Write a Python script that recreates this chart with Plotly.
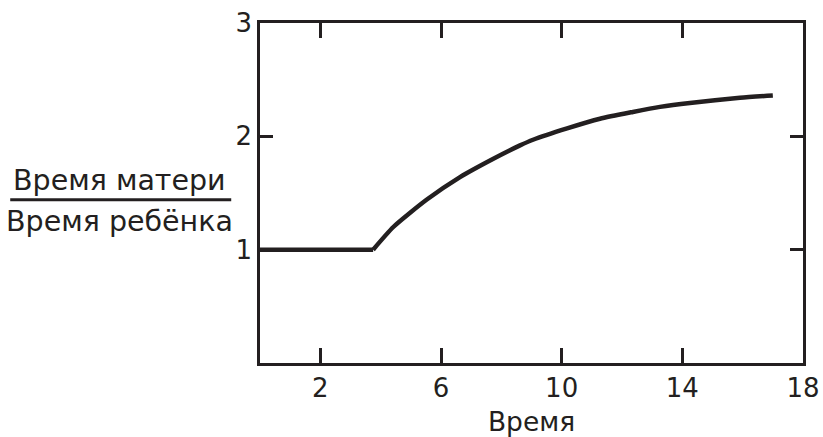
import plotly.graph_objects as go

# Data
flat_x = [0.0, 3.75]
flat_y = [1.0, 1.0]
curve_x = [3.75, 4.42, 5.52, 6.63, 7.72, 8.62, 9.05, 10.18, 11.27, 12.36, 13.26, 14.25, 15.91, 17.0]
curve_y = [1.0, 1.20, 1.44, 1.64, 1.80, 1.92, 1.97, 2.07, 2.155, 2.215, 2.26, 2.295, 2.34, 2.36]
x_ticks = [2, 6, 10, 14, 18]
y_ticks = [1, 2, 3]
x_title = "Время"
y_title_top = "Время матери"
y_title_bottom = "Время ребёнка"

ink = "#231f20"
font_family = "DejaVu Sans, Verdana, sans-serif"

fig = go.Figure()
fig.add_trace(go.Scatter(x=flat_x, y=flat_y, mode="lines",
                         line=dict(color=ink, width=4.5), showlegend=False, hoverinfo="skip"))
fig.add_trace(go.Scatter(x=curve_x, y=curve_y, mode="lines",
                         line=dict(color=ink, width=4.5, shape="spline", smoothing=0.6),
                         showlegend=False, hoverinfo="skip"))

axis_common = dict(showline=True, linecolor=ink, linewidth=2.5, mirror="ticks",
                   ticks="inside", tickcolor=ink, tickwidth=2.5,
                   showgrid=False, zeroline=False, automargin=False,
                   tickfont=dict(family=font_family, size=26, color=ink))

fig.update_xaxes(range=[0, 18], tickvals=x_ticks, ticklen=15,
                 title=dict(text=x_title, font=dict(family=font_family, size=26.5, color=ink), standoff=17),
                 **axis_common)
fig.update_yaxes(range=[0, 3], tickvals=y_ticks, ticklen=13, **axis_common)

fig.add_annotation(text=y_title_top, xref="paper", yref="paper", x=-0.258, y=0.538,
                   showarrow=False, xanchor="center", yanchor="middle",
                   font=dict(family=font_family, size=28.5, color=ink))
fig.add_annotation(text=y_title_bottom, xref="paper", yref="paper", x=-0.258, y=0.415,
                   showarrow=False, xanchor="center", yanchor="middle",
                   font=dict(family=font_family, size=28.5, color=ink))
fig.add_shape(type="line", xref="paper", yref="paper", x0=-0.460, x1=-0.053, y0=0.480, y1=0.480,
              line=dict(color=ink, width=3))

fig.update_layout(width=823, height=437, margin=dict(l=260, r=20, t=23, b=74, autoexpand=False),
                  paper_bgcolor="white", plot_bgcolor="white", hovermode=False)

fig.write_html("out.html", config={"displayModeBar": False},
               post_script="document.body.style.margin='0';document.body.style.overflow='hidden';")
